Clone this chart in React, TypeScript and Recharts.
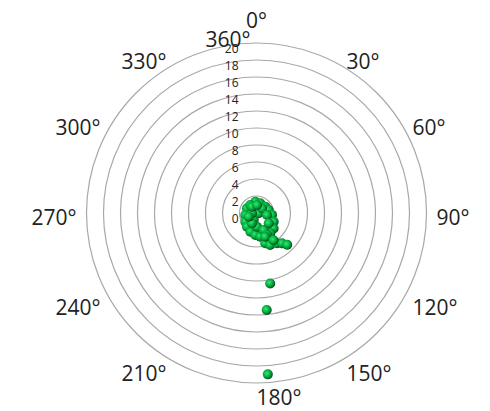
import React from "react";
import { RadarChart, Radar, PolarGrid, PolarAngleAxis, PolarRadiusAxis } from "recharts";

// direction in degrees (clockwise from north) and distance for each reading
const theta = [
  354, 21, 54, 296, 260, 232, 215, 198, 183, 171, 76, 97, 117, 132, 146, 156, 164, 157,
  146, 140, 136, 202, 97, 178, 322, 266, 157, 154, 50, 204, 245, 324, 4, 101, 130, 160,
  148, 169, 174, 176,
];
const radius = [
  1.34, 1.22, 1.27, 1.25, 1.34, 1.67, 1.96, 2.32, 2.59, 2.82, 1.48, 1.84, 2.27, 2.71, 2.89,
  3.49, 3.71, 4.1, 4.3, 4.66, 5.2, 0.89, 0.26, 1.61, 1.19, 0.53, 2.17, 2.87, 0.85, 1.32,
  1.02, 0.91, 0.94, 1.26, 1.88, 2.97, 3.77, 8.44, 11.47, 19.03,
];
const radiusTicks = [0, 2, 4, 6, 8, 10, 12, 14, 16, 18, 20];

const data = theta.map((t, i) => ({ theta: t, r: radius[i] }));

const labelFont = "'Open Sans', 'DejaVu Sans', sans-serif";

const AngleTick = (props: any) => {
  const { x, y, payload } = props;
  const v = payload.value as number;
  if (v === 0) {
    // 0° and 360° share the top position
    return (
      <g>
        <text x={x - 6} y={y + 6} textAnchor="end" dominantBaseline="central" fontSize={21} fill="#222" fontFamily={labelFont}>
          360°
        </text>
        <text x={x} y={y - 13} textAnchor="middle" dominantBaseline="central" fontSize={21} fill="#222" fontFamily={labelFont}>
          0°
        </text>
      </g>
    );
  }
  const anchor = v <= 180 ? "start" : "end";
  return (
    <text x={x} y={y + 4} textAnchor={anchor} dominantBaseline="central" fontSize={21} fill="#222" fontFamily={labelFont}>
      {v}°
    </text>
  );
};

const RadiusTick = (props: any) => {
  const { x, y, payload } = props;
  return (
    <text x={x - 18} y={y + 5} textAnchor="end" dominantBaseline="central" fontSize={12} fill="#222" fontFamily={labelFont}>
      {payload.value}
    </text>
  );
};

const Ball = (props: any) => {
  const { cx, cy, index } = props;
  if (cx == null || cy == null) return null;
  return <circle key={`ball-${index}`} cx={cx} cy={cy} r={5} fill="url(#ballFill)" />;
};

export default function App() {
  return (
    <div style={{ position: "absolute", left: 0, top: 0, width: 490, height: 411, background: "#fff" }}>
      <svg width={0} height={0} style={{ position: "absolute" }}>
        <defs>
          <radialGradient id="ballFill" cx="40%" cy="40%" r="62%">
            <stop offset="0%" stopColor="#30ec74" />
            <stop offset="50%" stopColor="#08b442" />
            <stop offset="85%" stopColor="#04702a" />
            <stop offset="100%" stopColor="#023514" />
          </radialGradient>
        </defs>
      </svg>
      <RadarChart
        width={490}
        height={411}
        data={data}
        cx={256.5}
        cy={213}
        outerRadius={170}
        startAngle={90}
        endAngle={-270}
        margin={{ top: 0, right: 0, bottom: 0, left: 0 }}
      >
        <PolarGrid gridType="circle" radialLines={false} stroke="#a8a8a8" strokeWidth={1.2} />
        <PolarAngleAxis
          dataKey="theta"
          type="number"
          domain={[0, 360]}
          tickCount={13}
          axisLine={false}
          tickLine={false}
          tickSize={10}
          tick={AngleTick}
        />
        <PolarRadiusAxis
          angle={90}
          type="number"
          domain={[0, 20]}
          ticks={radiusTicks as any}
          tickCount={11}
          axisLine={false}
          tickLine={false}
          tick={RadiusTick}
        />
        <Radar
          dataKey="r"
          stroke="none"
          fill="none"
          dot={Ball}
          activeDot={false}
          isAnimationActive={false}
        />
      </RadarChart>
    </div>
  );
}
